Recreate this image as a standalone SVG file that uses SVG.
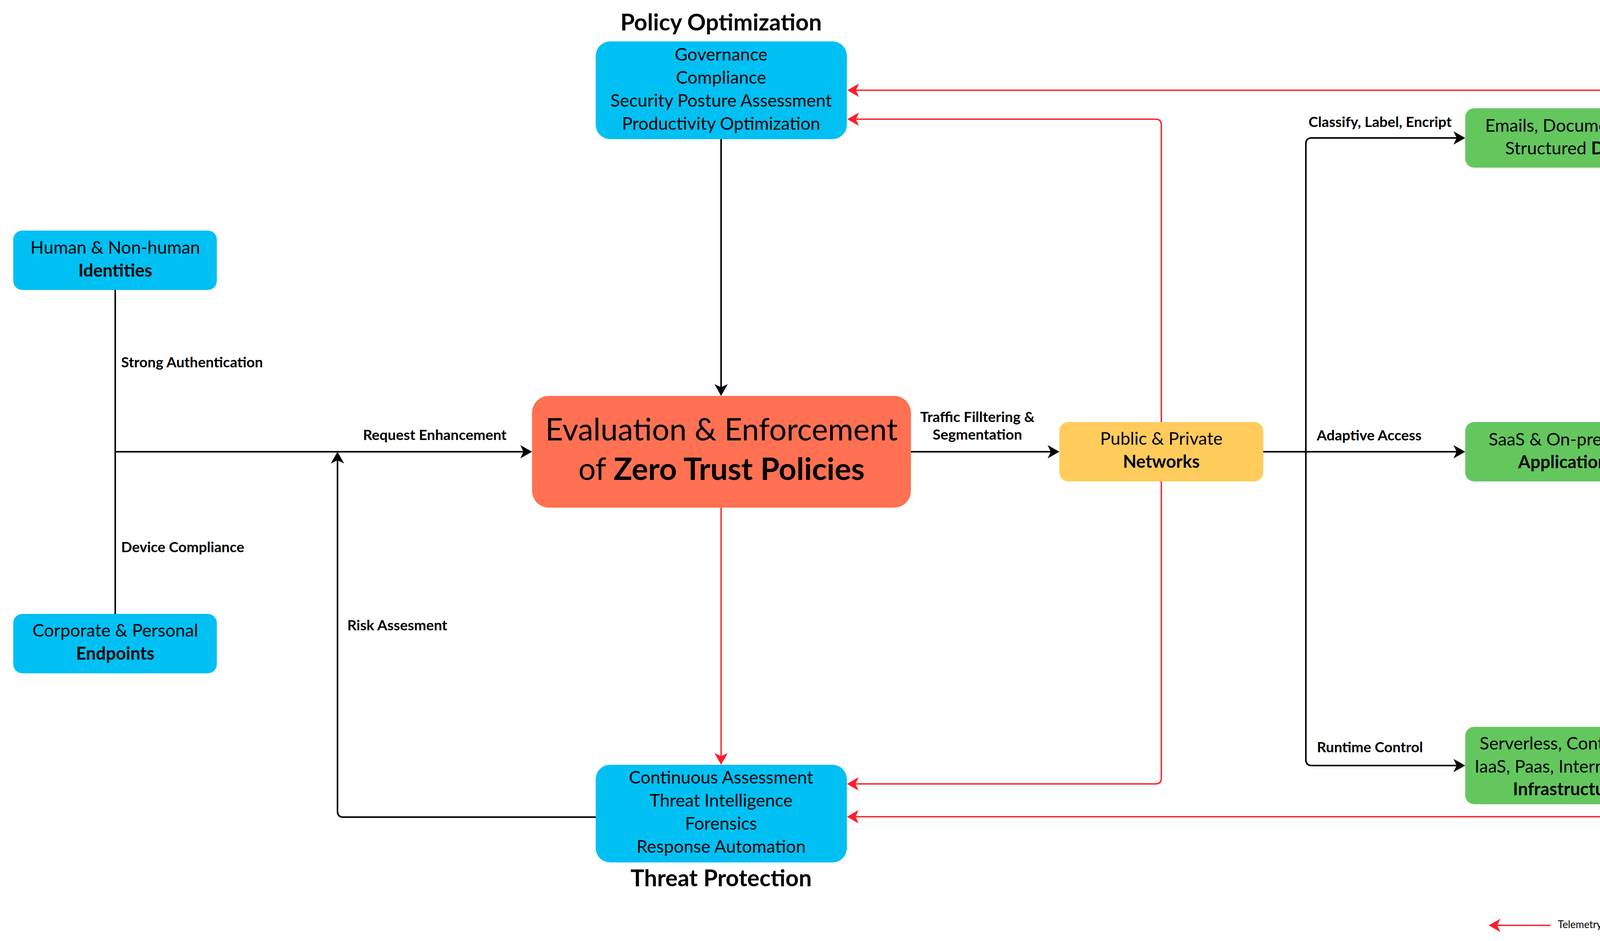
<svg xmlns="http://www.w3.org/2000/svg" width="4420" height="2408" viewBox="0 0 4420 2408">
<style>
text{font-family:Lato,"Noto Sans","DejaVu Sans",sans-serif;fill:#000}
.bx{font-size:45px;text-anchor:middle}
.main{font-size:79px;text-anchor:middle}
.ttl{font-size:59px;font-weight:bold;text-anchor:middle}
.lbl{font-size:37px;font-weight:bold}
.leg{font-size:26px}
.b{font-weight:bold}
.cy{fill:#00C0F3}
.gr{fill:#63C75E}
.k{fill:none;stroke:#000;stroke-width:4}
.r{fill:none;stroke:#FF1E28;stroke-width:3.5}
</style>
<defs>
<marker id="ak" viewBox="-12 -18 34 36" markerWidth="34" markerHeight="36" refX="0" refY="0" orient="auto" markerUnits="userSpaceOnUse">
<path d="M20,0 L-10,-17 L-2,0 L-10,17 Z" fill="#000"/>
</marker>
<marker id="ar" viewBox="-12 -18 34 36" markerWidth="34" markerHeight="36" refX="0" refY="0" orient="auto" markerUnits="userSpaceOnUse">
<path d="M20,0 L-10,-17 L-2,0 L-10,17 Z" fill="#FF1E28"/>
</marker>
</defs>
<rect width="4420" height="2408" fill="#fff"/>

<g id="connectors">
<path class="k" d="M295 742 V1571"/>
<path class="k" d="M295 1156 H1342" marker-end="url(#ak)"/>
<path class="k" d="M1846 356 V993" marker-end="url(#ak)"/>
<path class="k" d="M2332 1156 H2692" marker-end="url(#ak)"/>
<path class="k" d="M3234 1156 H3731" marker-end="url(#ak)"/>
<path class="k" d="M3234 1156 H3343 V368 Q3343 353 3358 353 H3731" marker-end="url(#ak)"/>
<path class="k" d="M3234 1156 H3343 V1944 Q3343 1959 3358 1959 H3731" marker-end="url(#ak)"/>
<path class="k" d="M1526 2091 H879 Q864 2091 864 2076 V1176" marker-end="url(#ak)"/>
<path class="r" d="M1846 1299 V1937" marker-end="url(#ar)"/>
<path class="r" d="M2973 1080 V320 Q2973 305 2958 305 H2189" marker-end="url(#ar)"/>
<path class="r" d="M2973 1232 V1991 Q2973 2006 2958 2006 H2188" marker-end="url(#ar)"/>
<path class="r" d="M4272 353 H4376"/>
<path class="r" d="M4272 1158 H4376"/>
<path class="r" d="M4272 1963 H4376"/>
<path class="r" d="M4376 1158 V246 Q4376 231 4361 231 H2189" marker-end="url(#ar)"/>
<path class="r" d="M4376 1158 V2075 Q4376 2090 4361 2090 H2188" marker-end="url(#ar)"/>
<text class="lbl" x="310" y="940">Strong Authentication</text>
<text class="lbl" x="310" y="1413">Device Compliance</text>
<text class="lbl" x="1113" y="1126" text-anchor="middle">Request Enhancement</text>
<text class="lbl" x="889" y="1613">Risk Assesment</text>
<text class="lbl" x="2502" y="1080" text-anchor="middle">Traffic Filltering &amp;</text>
<text class="lbl" x="2502" y="1125" text-anchor="middle">Segmentation</text>
<text class="lbl" x="3533" y="325" text-anchor="middle">Classify, Label, Encript</text>
<text class="lbl" x="3505" y="1127" text-anchor="middle">Adaptive Access</text>
<text class="lbl" x="3507" y="1925" text-anchor="middle">Runtime Control</text>
</g>

<g id="policy">
<text class="ttl" x="1846" y="78">Policy Optimization</text>
<rect class="cy" x="1525" y="106" width="643" height="250" rx="37"/>
<text class="bx" x="1846" y="155">Governance</text>
<text class="bx" x="1846" y="214">Compliance</text>
<text class="bx" x="1846" y="273">Security Posture Assessment</text>
<text class="bx" x="1846" y="332">Productivity Optimization</text>
</g>

<g id="identities">
<rect class="cy" x="34" y="590" width="521" height="152" rx="23"/>
<text class="bx" x="295" y="649">Human &amp; Non-human</text>
<text class="bx b" x="295" y="708">Identities</text>
</g>

<g id="endpoints">
<rect class="cy" x="34" y="1571" width="521" height="152" rx="23"/>
<text class="bx" x="295" y="1629">Corporate &amp; Personal</text>
<text class="bx b" x="295" y="1688">Endpoints</text>
</g>

<g id="evaluation">
<rect x="1362" y="1013" width="970" height="286" rx="43" fill="#FF7152"/>
<text class="main" x="1847" y="1127">Evaluation &amp; Enforcement</text>
<text class="main" x="1847" y="1228">of <tspan class="b">Zero Trust Policies</tspan></text>
</g>

<g id="networks">
<rect x="2712" y="1080" width="522" height="152" rx="23" fill="#FFCC5C"/>
<text class="bx" x="2973" y="1138">Public &amp; Private</text>
<text class="bx b" x="2973" y="1197">Networks</text>
</g>

<g id="data">
<rect class="gr" x="3751" y="277" width="521" height="152" rx="23"/>
<text class="bx" x="4011" y="337">Emails, Documents &amp;</text>
<text class="bx" x="4011" y="395">Structured <tspan class="b">Data</tspan></text>
</g>

<g id="applications">
<rect class="gr" x="3751" y="1080" width="521" height="152" rx="23"/>
<text class="bx" x="4011" y="1140">SaaS &amp; On-premises</text>
<text class="bx b" x="4011" y="1198">Applications</text>
</g>

<g id="infrastructure">
<rect class="gr" x="3751" y="1860" width="521" height="198" rx="23"/>
<text class="bx" x="4011" y="1918">Serverless, Containers,</text>
<text class="bx" x="4011" y="1977">IaaS, Paas, Internal Sites</text>
<text class="bx b" x="4011" y="2035">Infrastructure</text>
</g>

<g id="threat">
<rect class="cy" x="1525" y="1957" width="643" height="250" rx="37"/>
<text class="bx" x="1846" y="2005">Continuous Assessment</text>
<text class="bx" x="1846" y="2064">Threat Intelligence</text>
<text class="bx" x="1846" y="2123">Forensics</text>
<text class="bx" x="1846" y="2182">Response Automation</text>
<text class="ttl" x="1846" y="2268">Threat Protection</text>
</g>

<g id="legend">
<path class="r" d="M3969 2368 H3831" marker-end="url(#ar)"/>
<text class="leg" x="3988" y="2375">Telemetry/analytics/assessment</text>
</g>
</svg>
